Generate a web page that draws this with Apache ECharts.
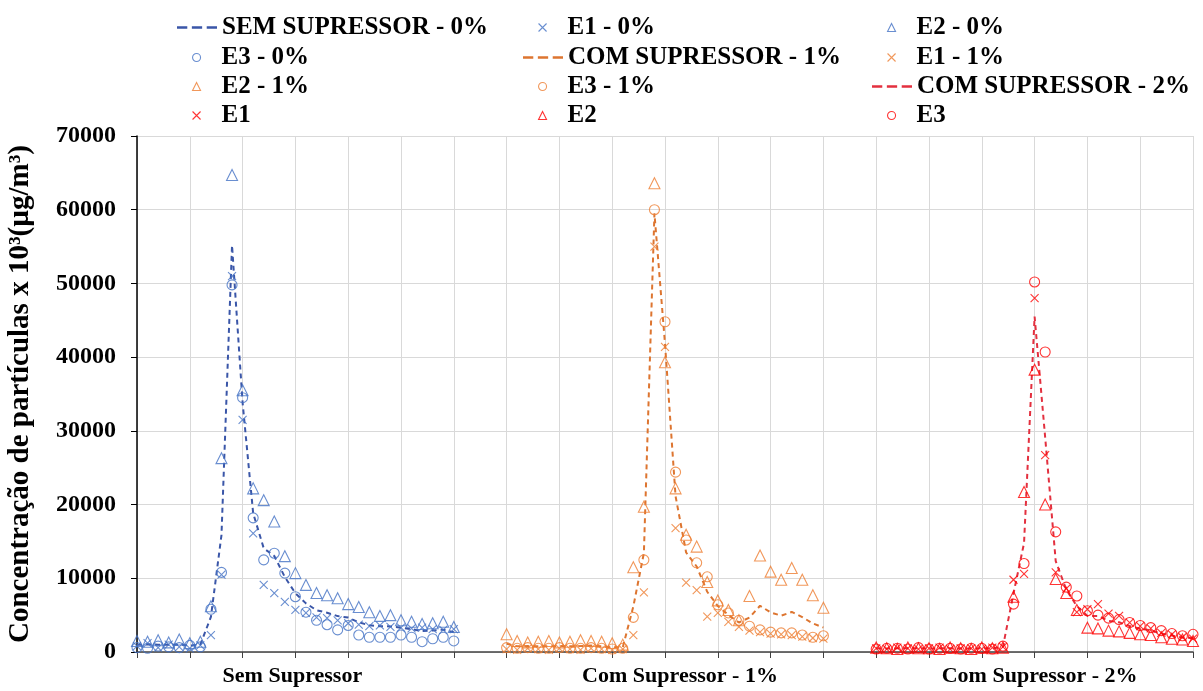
<!DOCTYPE html>
<html>
<head>
<meta charset="utf-8">
<script src="https://cdn.jsdelivr.net/npm/echarts@6/dist/echarts.min.js"></script>
<style>
  html, body { margin: 0; padding: 0; background: #ffffff; }
  #chart { width: 1203px; height: 691px; }
</style>
</head>
<body>
<div id="chart"></div>
<script>
// ---- data -------------------------------------------------------------
// three test runs, each sampled 31 times; the axis unit is one grid column
const runLabels = ['Sem Supressor', 'Com Supressor - 1%', 'Com Supressor - 2%'];
const runOffset = [0, 7, 14];      // axis unit where each run starts
const sampleStep = 0.2;            // axis units between two samples

const yTicks = [0, 10000, 20000, 30000, 40000, 50000, 60000, 70000];

// Sem supressor (0%)
const mean0 = [970, 1030, 1000, 1000, 1000, 870, 1000, 4770, 15870, 55170, 33830, 18830, 14070, 13030, 10170, 7970, 6600, 5670, 5330, 4870, 4670, 4030, 3630, 3500, 3470, 3300, 3100, 2830, 2930, 3030, 2670];
const e1_0 = [800, 1200, 600, 1000, 700, 500, 900, 2300, 10500, 51000, 31500, 16100, 9100, 8000, 6800, 5700, 5300, 4700, 4600, 4300, 3900, 3700, 3500, 3600, 3400, 3300, 3200, 3300, 3100, 3000, 3100];
const e2_0 = [1500, 1400, 1600, 1300, 1700, 1200, 1400, 6200, 26300, 64700, 35500, 22200, 20600, 17700, 13000, 10700, 9100, 8000, 7700, 7300, 6500, 6100, 5400, 4900, 5000, 4300, 4100, 3800, 3900, 4100, 3400];
const e3_0 = [600, 500, 800, 700, 600, 900, 700, 5800, 10800, 49800, 34500, 18200, 12500, 13400, 10700, 7500, 5400, 4300, 3700, 3000, 3600, 2300, 2000, 2000, 2000, 2300, 2000, 1400, 1800, 2000, 1500];

// Com supressor 1%
const mean1 = [1130, 770, 800, 770, 770, 800, 770, 800, 870, 770, 630, 630, 6170, 13430, 59500, 41830, 21130, 13500, 11600, 8170, 6230, 5030, 4000, 4670, 6270, 5370, 4930, 5430, 4730, 3870, 3330];
const e1_1 = [400, 300, 500, 400, 300, 500, 400, 300, 500, 400, 300, 400, 2300, 8100, 55000, 41400, 16800, 9400, 8400, 4800, 5300, 4100, 3400, 2900, 2700, 2500, 2400, 2300, 2100, 1900, 1800];
const e2_1 = [2400, 1500, 1300, 1400, 1500, 1300, 1400, 1600, 1500, 1400, 1200, 1000, 11500, 19700, 63600, 39300, 22200, 15900, 14300, 9500, 7000, 5700, 4300, 7600, 13100, 10900, 9800, 11400, 9800, 7700, 6000];
const e3_1 = [600, 500, 600, 500, 500, 600, 500, 500, 600, 500, 400, 500, 4700, 12500, 60000, 44800, 24400, 15200, 12100, 10200, 6400, 5300, 4300, 3500, 3000, 2700, 2600, 2600, 2300, 2000, 2200];

// Com supressor 2%
const mean2 = [500, 470, 500, 500, 500, 470, 500, 500, 470, 470, 500, 500, 700, 7930, 14770, 45500, 29130, 12330, 8470, 6230, 4900, 4900, 4230, 4030, 3530, 3170, 2930, 2500, 2230, 1970, 1900];
const e1_2 = [500, 400, 600, 500, 400, 500, 600, 400, 500, 500, 400, 600, 700, 9800, 10600, 48000, 26700, 10800, 8600, 5400, 5800, 6500, 5200, 4900, 4000, 3500, 3200, 2600, 2400, 2000, 1800];
const e2_2 = [600, 500, 400, 600, 500, 500, 400, 600, 500, 400, 600, 500, 600, 7500, 21700, 38300, 20000, 9900, 8000, 5700, 3300, 3200, 2900, 2800, 2600, 2400, 2300, 2000, 1800, 1700, 1500];
const e3_2 = [400, 500, 500, 400, 600, 400, 500, 500, 400, 500, 500, 400, 800, 6500, 12000, 50200, 40700, 16300, 8800, 7600, 5600, 5000, 4600, 4400, 4000, 3600, 3300, 2900, 2500, 2200, 2400];

// ---- styling ------------------------------------------------------------
const BLUE = '#4472C4', BLUE_LINE = '#3a56a8';
const ORANGE = '#ED7D31', ORANGE_LINE = '#DD7530';
const RED = '#FF0000', RED_LINE = '#E3303F';
const FONT = '"Liberation Serif", "Times New Roman", serif';
const CROSS = 'path://M0,0L10,10M10,0L0,10';
const DASHES = 'path://M0,0h9v2.4h-9zM13,0h9v2.4h-9zM26,0h9v2.4h-9z';

function points(values, run) {
  return values.map((v, i) => [runOffset[run] + i * sampleStep, v]);
}

function meanSeries(name, values, run, color) {
  return {
    name, type: 'line', data: points(values, run), symbol: 'none',
    lineStyle: { color, width: 2, type: [5, 4] }, itemStyle: { color },
    z: 3, animation: false
  };
}

function markerSeries(name, values, run, color, kind) {
  const shape = kind === 'x' ? CROSS : kind;
  const size = kind === 'x' ? 8 : (kind === 'triangle' ? 11 : 10);
  return {
    name, type: 'scatter', data: points(values, run),
    symbol: shape, symbolSize: size,
    itemStyle: { color: 'rgba(0,0,0,0)', borderColor: color, borderWidth: 1.1 },
    z: 4, animation: false
  };
}

const series = [
  meanSeries('SEM SUPRESSOR - 0%', mean0, 0, BLUE_LINE),
  markerSeries('E1 - 0%', e1_0, 0, BLUE, 'x'),
  markerSeries('E2 - 0%', e2_0, 0, BLUE, 'triangle'),
  markerSeries('E3 - 0%', e3_0, 0, BLUE, 'circle'),
  meanSeries('COM SUPRESSOR - 1%', mean1, 1, ORANGE_LINE),
  markerSeries('E1 - 1%', e1_1, 1, ORANGE, 'x'),
  markerSeries('E2 - 1%', e2_1, 1, ORANGE, 'triangle'),
  markerSeries('E3 - 1%', e3_1, 1, ORANGE, 'circle'),
  meanSeries('COM SUPRESSOR - 2%', mean2, 2, RED_LINE),
  markerSeries('E1', e1_2, 2, RED, 'x'),
  markerSeries('E2', e2_2, 2, RED, 'triangle'),
  markerSeries('E3', e3_2, 2, RED, 'circle')
];

// legend laid out as a 3-column grid, one component per entry
const colText = [217, 563, 912];
const rowTop = [10, 40, 69, 98];
const legendText = { fontFamily: FONT, fontWeight: 'bold', fontSize: 25, color: '#000' };
const legends = series.map((s, i) => {
  const row = Math.floor(i / 3), col = i % 3;
  if (s.type === 'line') {
    const color = s.lineStyle.color;
    return {
      data: [{ name: s.name, icon: DASHES, itemStyle: { color } }],
      left: colText[col] - 45, top: rowTop[row],
      itemWidth: 40, itemHeight: 3, selectedMode: false,
      textStyle: legendText
    };
  }
  const color = s.itemStyle.borderColor;
  return {
    data: [s.name],
    left: colText[col] - 30, top: rowTop[row],
    itemWidth: 8, itemHeight: 8, selectedMode: false,
    formatter: name => '{g|}' + name,
    textStyle: Object.assign({}, legendText, { rich: { g: { width: 16 } } }),
    itemStyle: { color: 'rgba(0,0,0,0)', borderColor: color, borderWidth: 1.1 }
  };
});

// run names under the axis, nudged to sit under their runs
const labelRich = {};
const labelShift = [-6, 30, 10];
runLabels.forEach((_, i) => {
  labelRich['r' + i] = {
    fontFamily: FONT, fontWeight: 'bold', fontSize: 22, color: '#000',
    padding: labelShift[i] >= 0 ? [0, 0, 0, labelShift[i]] : [0, -labelShift[i], 0, 0]
  };
});

const chart = echarts.init(document.getElementById('chart'), null, { renderer: 'canvas' });
chart.setOption({
  backgroundColor: '#ffffff',
  animation: false,
  legend: legends,
  grid: { left: 137, right: 10, top: 136, bottom: 39, outerBoundsMode: 'none', containLabel: false },
  xAxis: {
    type: 'value', min: 0, max: 20, interval: 1,
    axisLine: { lineStyle: { color: '#404040', width: 1.5 } },
    axisTick: { show: true, length: 6, lineStyle: { color: '#404040' } },
    splitLine: { show: true, lineStyle: { color: '#d9d9d9', width: 1 } },
    axisLabel: {
      margin: 13, interval: 0,
      fontFamily: FONT, fontWeight: 'bold', fontSize: 22, color: '#000',
      rich: labelRich,
      formatter: v => {
        const idx = runOffset.findIndex(o => Math.abs(o + 3 - v) < 1e-6);
        return idx >= 0 ? '{r' + idx + '|' + runLabels[idx] + '}' : '';
      }
    }
  },
  yAxis: {
    type: 'value', min: yTicks[0], max: yTicks[yTicks.length - 1], interval: yTicks[1] - yTicks[0],
    name: 'Concentração de partículas x 10³(µg/m³)',
    nameLocation: 'middle', nameGap: 102, nameRotate: 90,
    nameTextStyle: { fontFamily: FONT, fontWeight: 'bold', fontSize: 29, color: '#000' },
    axisLine: { show: true, lineStyle: { color: '#000', width: 1.5 } },
    axisTick: { show: true, length: 6, lineStyle: { color: '#000' } },
    splitLine: { show: true, lineStyle: { color: '#d9d9d9', width: 1 } },
    axisLabel: {
      margin: 21, fontFamily: FONT, fontWeight: 'bold', fontSize: 24, color: '#000',
      formatter: v => String(v)
    }
  },
  series
});
</script>
</body>
</html>
